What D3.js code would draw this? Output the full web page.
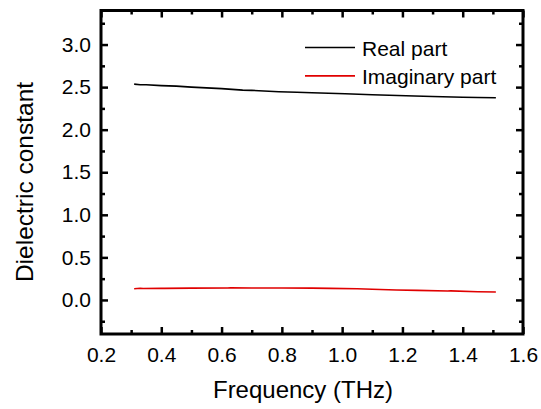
<!DOCTYPE html>
<html>
<head>
<meta charset="utf-8">
<script src="https://cdn.jsdelivr.net/npm/d3@7"></script>
<style>
  body { margin: 0; background: #fff; }
  text { font-family: "Liberation Sans", Arial, sans-serif; fill: #000; }
</style>
</head>
<body>
<div id="chart"></div>
<script>
// data
var realFreq = [0.31, 0.33, 0.35, 0.40, 0.45, 0.50, 0.60, 0.67, 0.70, 0.79, 0.85, 0.90, 1.01, 1.10, 1.24, 1.30, 1.40, 1.45, 1.51];
var realVals = [2.535, 2.528, 2.527, 2.518, 2.512, 2.500, 2.482, 2.465, 2.462, 2.446, 2.440, 2.433, 2.422, 2.410, 2.395, 2.390, 2.381, 2.378, 2.375];

var imagFreq = [0.31, 0.33, 0.34, 0.40, 0.41, 0.50, 0.62, 0.63, 0.70, 0.80, 0.90, 0.96, 1.05, 1.10, 1.18, 1.25, 1.35, 1.36, 1.45, 1.51];
var imagVals = [0.131, 0.137, 0.134, 0.138, 0.136, 0.139, 0.141, 0.143, 0.140, 0.140, 0.139, 0.136, 0.131, 0.126, 0.117, 0.112, 0.105, 0.107, 0.097, 0.093];

var xTicks = [0.2, 0.4, 0.6, 0.8, 1.0, 1.2, 1.4, 1.6];
var yTicks = [0.0, 0.5, 1.0, 1.5, 2.0, 2.5, 3.0];
var seriesNames = ["Real part", "Imaginary part"];
var seriesColors = ["#000000", "#e00000"];

var svgWidth = 541, svgHeight = 409;
var margin = { top: 10.5, right: 18, bottom: 75, left: 101 };
var width = svgWidth - margin.left - margin.right;
var height = svgHeight - margin.top - margin.bottom;

var svg = d3.select("#chart")
    .append("svg")
    .attr("width", svgWidth)
    .attr("height", svgHeight);

var g = svg.append("g")
    .attr("transform", "translate(" + margin.left + "," + margin.top + ")");

var x = d3.scaleLinear().domain([0.2, 1.6]).range([0, width]);
var y = d3.scaleLinear().domain([-0.4, 3.4]).range([height, 0]);

// minor ticks
var xMinor = d3.range(0.3, 1.6, 0.2);
var yMinor = d3.range(-0.25, 3.4, 0.5);

function styleAxis(sel) {
    sel.select(".domain").remove();
    sel.selectAll(".tick line").attr("stroke", "#000").attr("stroke-width", 2.5);
    sel.selectAll("text").style("font-size", "21px");
}

// bottom axis with labels
g.append("g")
    .attr("transform", "translate(0," + height + ")")
    .call(d3.axisBottom(x).tickValues(xTicks).tickSizeInner(-7).tickSizeOuter(0).tickPadding(13)
        .tickFormat(d3.format(".1f")))
    .call(styleAxis);
g.append("g")
    .attr("transform", "translate(0," + height + ")")
    .call(d3.axisBottom(x).tickValues(xMinor).tickSizeInner(-4).tickSizeOuter(0).tickFormat(""))
    .call(styleAxis);

// top mirror
g.append("g")
    .call(d3.axisTop(x).tickValues(xTicks).tickSizeInner(-7).tickSizeOuter(0).tickFormat(""))
    .call(styleAxis);
g.append("g")
    .call(d3.axisTop(x).tickValues(xMinor).tickSizeInner(-4).tickSizeOuter(0).tickFormat(""))
    .call(styleAxis);

// left axis with labels
g.append("g")
    .call(d3.axisLeft(y).tickValues(yTicks).tickSizeInner(-7).tickSizeOuter(0).tickPadding(10)
        .tickFormat(d3.format(".1f")))
    .call(styleAxis);
g.append("g")
    .call(d3.axisLeft(y).tickValues(yMinor).tickSizeInner(-4).tickSizeOuter(0).tickFormat(""))
    .call(styleAxis);

// right mirror
g.append("g")
    .attr("transform", "translate(" + width + ",0)")
    .call(d3.axisRight(y).tickValues(yTicks).tickSizeInner(-7).tickSizeOuter(0).tickFormat(""))
    .call(styleAxis);
g.append("g")
    .attr("transform", "translate(" + width + ",0)")
    .call(d3.axisRight(y).tickValues(yMinor).tickSizeInner(-4).tickSizeOuter(0).tickFormat(""))
    .call(styleAxis);

// frame
g.append("rect")
    .attr("width", width)
    .attr("height", height)
    .attr("fill", "none")
    .attr("stroke", "#000")
    .attr("stroke-width", 3);

// lines
var line = d3.line()
    .x(function (d) { return x(d[0]); })
    .y(function (d) { return y(d[1]); });

var realData = d3.zip(realFreq, realVals);
var imagData = d3.zip(imagFreq, imagVals);

[realData, imagData].forEach(function (data, i) {
    g.append("path")
        .datum(data)
        .attr("fill", "none")
        .attr("stroke", seriesColors[i])
        .attr("stroke-width", 1.6)
        .attr("d", line);
});

// legend
var legend = g.append("g").attr("transform", "translate(204,37)");
seriesNames.forEach(function (name, i) {
    var row = legend.append("g").attr("transform", "translate(0," + (i * 28.4) + ")");
    row.append("line")
        .attr("x1", 0).attr("x2", 50)
        .attr("stroke", seriesColors[i])
        .attr("stroke-width", 1.6);
    row.append("text")
        .attr("x", 57)
        .attr("y", 8)
        .style("font-size", "21px")
        .text(name);
});

// axis titles
svg.append("text")
    .attr("x", 303)
    .attr("y", 398)
    .attr("text-anchor", "middle")
    .style("font-size", "24px")
    .text("Frequency (THz)");

svg.append("text")
    .attr("transform", "translate(33,182) rotate(-90)")
    .attr("text-anchor", "middle")
    .style("font-size", "24.5px")
    .text("Dielectric constant");
</script>
</body>
</html>
